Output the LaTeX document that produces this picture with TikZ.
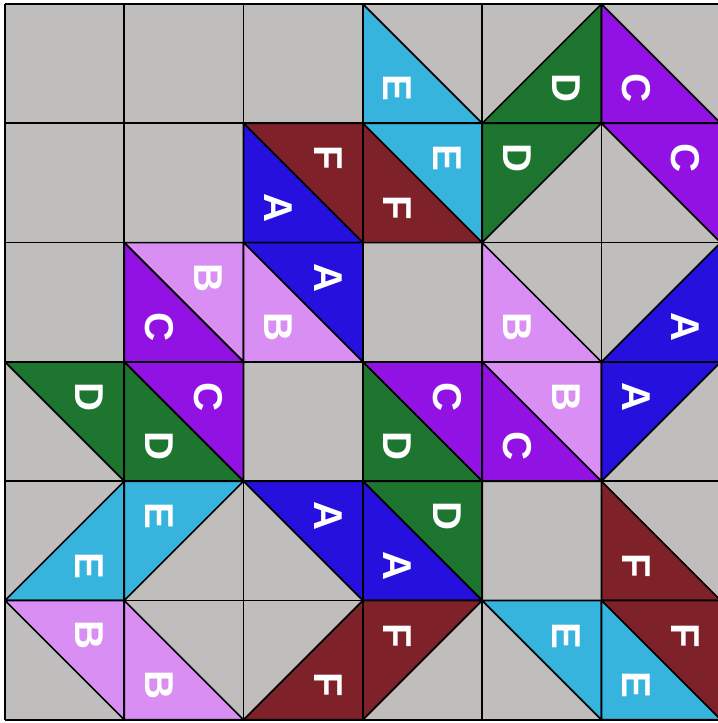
\documentclass[tikz,border=0pt]{standalone}
\usepackage{fontspec}
\newfontfamily\tilefont{Liberation Sans}
\definecolor{tilegray}{HTML}{C0BDBD}
\definecolor{colA}{HTML}{2510DE}
\definecolor{colB}{HTML}{D88EF2}
\definecolor{colC}{HTML}{9212E3}
\definecolor{colD}{HTML}{1E7530}
\definecolor{colE}{HTML}{36B4DE}
\definecolor{colF}{HTML}{7F2129}
\tikzset{
  piece/.style={draw=black, line width=1pt, line join=round},
  pieceA/.style={piece, fill=colA},
  pieceB/.style={piece, fill=colB},
  pieceC/.style={piece, fill=colC},
  pieceD/.style={piece, fill=colD},
  pieceE/.style={piece, fill=colE},
  pieceF/.style={piece, fill=colF},
  lab/.style={text=white, rotate=-90, inner sep=0pt, font=\tilefont\bfseries\fontsize{24}{24}\selectfont}
}
\begin{document}
\begin{tikzpicture}[x=2.5cm, y=2.5cm]
            \useasboundingbox (-0.042,-0.027) rectangle (5.977,6.034);
            \fill[tilegray] (0,0) rectangle (6,6);
            % row 1
            \path[pieceE] (3,6) -- (3,5) -- (4,5) -- cycle;
            \path[pieceD] (4,5) -- (5,5) -- (5,6) -- cycle;
            \path[pieceC] (5,6) -- (5,5) -- (6,5) -- cycle;
            \node[lab] (e1) at (3.293,5.293) {E};
            \node[lab] (d1) at (4.707,5.293) {D};
            \node[lab] (c1) at (5.293,5.293) {C};
            % row 2
            \path[pieceF] (2,5) -- (3,5) -- (3,4) -- cycle;
            \path[pieceA] (2,5) -- (2,4) -- (3,4) -- cycle;
            \path[pieceE] (3,5) -- (4,5) -- (4,4) -- cycle;
            \path[pieceF] (3,5) -- (3,4) -- (4,4) -- cycle;
            \path[pieceD] (4,4) -- (4,5) -- (5,5) -- cycle;
            \path[pieceC] (5,5) -- (6,5) -- (6,4) -- cycle;
            \node[lab] (f1) at (2.707,4.707) {F};
            \node[lab] (a1) at (2.293,4.293) {A};
            \node[lab] (e2) at (3.707,4.707) {E};
            \node[lab] (f2) at (3.293,4.293) {F};
            \node[lab] (d2) at (4.293,4.707) {D};
            \node[lab] (c2) at (5.707,4.707) {C};
            % row 3
            \path[pieceB] (1,4) -- (2,4) -- (2,3) -- cycle;
            \path[pieceC] (1,4) -- (1,3) -- (2,3) -- cycle;
            \path[pieceA] (2,4) -- (3,4) -- (3,3) -- cycle;
            \path[pieceB] (2,4) -- (2,3) -- (3,3) -- cycle;
            \path[pieceB] (4,4) -- (4,3) -- (5,3) -- cycle;
            \path[pieceA] (5,3) -- (6,3) -- (6,4) -- cycle;
            \node[lab] (b1) at (1.707,3.707) {B};
            \node[lab] (c3) at (1.293,3.293) {C};
            \node[lab] (a2) at (2.707,3.707) {A};
            \node[lab] (b2) at (2.293,3.293) {B};
            \node[lab] (b3) at (4.293,3.293) {B};
            \node[lab] (a3) at (5.707,3.293) {A};
            % row 4
            \path[pieceD] (0,3) -- (1,3) -- (1,2) -- cycle;
            \path[pieceC] (1,3) -- (2,3) -- (2,2) -- cycle;
            \path[pieceD] (1,3) -- (1,2) -- (2,2) -- cycle;
            \path[pieceC] (3,3) -- (4,3) -- (4,2) -- cycle;
            \path[pieceD] (3,3) -- (3,2) -- (4,2) -- cycle;
            \path[pieceB] (4,3) -- (5,3) -- (5,2) -- cycle;
            \path[pieceC] (4,3) -- (4,2) -- (5,2) -- cycle;
            \path[pieceA] (5,2) -- (5,3) -- (6,3) -- cycle;
            \node[lab] (d3) at (0.707,2.707) {D};
            \node[lab] (c4) at (1.707,2.707) {C};
            \node[lab] (d4) at (1.293,2.293) {D};
            \node[lab] (c5) at (3.707,2.707) {C};
            \node[lab] (d5) at (3.293,2.293) {D};
            \node[lab] (b4) at (4.707,2.707) {B};
            \node[lab] (c6) at (4.293,2.293) {C};
            \node[lab] (a4) at (5.293,2.707) {A};
            % row 5
            \path[pieceE] (0,1) -- (1,1) -- (1,2) -- cycle;
            \path[pieceE] (1,1) -- (1,2) -- (2,2) -- cycle;
            \path[pieceA] (2,2) -- (3,2) -- (3,1) -- cycle;
            \path[pieceD] (3,2) -- (4,2) -- (4,1) -- cycle;
            \path[pieceA] (3,2) -- (3,1) -- (4,1) -- cycle;
            \path[pieceF] (5,2) -- (5,1) -- (6,1) -- cycle;
            \node[lab] (e3) at (0.707,1.293) {E};
            \node[lab] (e4) at (1.293,1.707) {E};
            \node[lab] (a5) at (2.707,1.707) {A};
            \node[lab] (d6) at (3.707,1.707) {D};
            \node[lab] (a6) at (3.293,1.293) {A};
            \node[lab] (f3) at (5.293,1.293) {F};
            % row 6
            \path[pieceB] (0,1) -- (1,1) -- (1,0) -- cycle;
            \path[pieceB] (1,1) -- (1,0) -- (2,0) -- cycle;
            \path[pieceF] (2,0) -- (3,0) -- (3,1) -- cycle;
            \path[pieceF] (3,0) -- (3,1) -- (4,1) -- cycle;
            \path[pieceE] (4,1) -- (5,1) -- (5,0) -- cycle;
            \path[pieceF] (5,1) -- (6,1) -- (6,0) -- cycle;
            \path[pieceE] (5,1) -- (5,0) -- (6,0) -- cycle;
            \node[lab] (b5) at (0.707,0.707) {B};
            \node[lab] (b6) at (1.293,0.293) {B};
            \node[lab] (f4) at (2.707,0.293) {F};
            \node[lab] (f5) at (3.293,0.707) {F};
            \node[lab] (e5) at (4.707,0.707) {E};
            \node[lab] (f6) at (5.707,0.707) {F};
            \node[lab] (e6) at (5.293,0.293) {E};
            % grid on top
            \draw[line width=1pt, step=2.5cm] (0,0) grid (6,6);
        \end{tikzpicture}
\end{document}
